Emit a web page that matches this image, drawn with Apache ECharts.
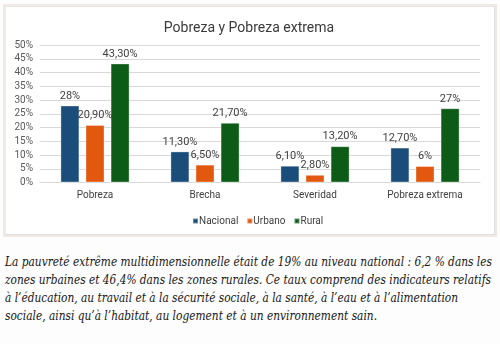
<!DOCTYPE html>
<html>
<head>
<meta charset="utf-8">
<script src="https://cdn.jsdelivr.net/npm/echarts@6/dist/echarts.min.js"></script>
<style>
  html, body { margin: 0; padding: 0; background: #fdfdfd; }
  body { width: 500px; height: 344px; position: relative; overflow: hidden; }
  #panel {
    position: absolute; left: 3px; top: 4px; width: 490px; height: 229px;
    border: 2px solid #f1e9e3; background: #fff;
  }
  #inner {
    position: absolute; left: 0; top: 0; right: 0; bottom: 0;
    border: 1px solid #dedede; border-left-color: #f3ecec; border-top-color: #ebe6e6;
  }
  #chart { position: absolute; left: 7px; top: 7px; width: 484px; height: 225px; }
  .line {
    position: absolute; left: 5px; white-space: nowrap;
    font-family: "DejaVu Serif", serif; font-style: italic; font-size: 12.5px;
    color: #161616; transform-origin: 0 50%;
  }
</style>
</head>
<body>
<div id="panel"><div id="inner"></div></div>
<div id="chart"></div>
<div id="para"></div>
<script>
// Chart data
const categories = ['Pobreza', 'Brecha', 'Severidad', 'Pobreza extrema'];
const nacional = [28, 11.3, 6.1, 12.7];
const urbano = [20.9, 6.5, 2.8, 6];
const rural = [43.3, 21.7, 13.2, 27];
const seriesNames = ['Nacional', 'Urbano', 'Rural'];
const seriesColors = ['#1a4d7a', '#e1580e', '#0c5c18'];
const yTicks = [0, 5, 10, 15, 20, 25, 30, 35, 40, 45, 50];

// Caption text, one entry per printed line, with its right edge
const captionLines = [
  'La pauvreté extrême multidimensionnelle était de 19% au niveau national : 6,2 % dans les',
  'zones urbaines et 46,4% dans les zones rurales. Ce taux comprend des indicateurs relatifs',
  'à l’éducation, au travail et à la sécurité sociale, à la santé, à l’eau et à l’alimentation',
  'sociale, ainsi qu’à l’habitat, au logement et à un environnement sain.'
];
const captionRight = [492, 491, 458, 377];
const captionTop = [254, 272, 290, 308];

const FONT = 'Roboto, Arial, sans-serif';
const fmt = v => {
  const s = Number.isInteger(v) ? String(v) : v.toFixed(2).replace('.', ',');
  return s + '%';
};

const chart = echarts.init(document.getElementById('chart'), null, { renderer: 'canvas' });
const labelStyle = {
  show: true, position: 'top', distance: 4,
  color: '#404040', fontSize: 11, fontFamily: FONT,
  formatter: p => fmt(p.value)
};
const data = [nacional, urbano, rural];
chart.setOption({
  animation: false,
  backgroundColor: '#fff',
  title: {
    text: 'Pobreza y Pobreza extrema', left: 'center', top: 9,
    textStyle: { fontSize: 14, fontWeight: 'normal', color: '#3a3a3a', fontFamily: FONT }
  },
  legend: {
    data: seriesNames, left: 180, top: 204, itemWidth: 5, itemHeight: 5, itemGap: 8,
    icon: 'rect',
    textStyle: { fontSize: 10, color: '#404040', padding: [0, 0, 0, -4], fontFamily: FONT }
  },
  grid: { left: 33, right: 11, top: 38, bottom: 49.5 },
  xAxis: {
    type: 'category', data: categories,
    axisLine: { lineStyle: { color: '#d9d9d9' } },
    axisTick: { show: false },
    axisLabel: { color: '#404040', fontSize: 10, margin: 8, fontFamily: FONT }
  },
  yAxis: {
    type: 'value', min: yTicks[0], max: yTicks[yTicks.length - 1], interval: 5,
    axisLine: { show: false }, axisTick: { show: false },
    splitLine: { lineStyle: { color: '#d9d9d9' } },
    axisLabel: { color: '#595959', fontSize: 10, margin: 7, formatter: '{value}%', fontFamily: FONT }
  },
  series: seriesNames.map((name, i) => ({
    name, type: 'bar', data: data[i],
    barWidth: 19, barGap: '32%',
    itemStyle: { color: seriesColors[i], borderColor: 'rgba(255,255,255,0.35)', borderWidth: 1 },
    label: labelStyle
  }))
});

// Caption lines, each fitted to its printed width
const para = document.getElementById('para');
captionLines.forEach((t, i) => {
  const d = document.createElement('div');
  d.className = 'line';
  d.textContent = t;
  d.style.top = captionTop[i] + 'px';
  para.appendChild(d);
  const w = d.getBoundingClientRect().width;
  const target = captionRight[i] - 5;
  d.style.transform = 'scaleX(' + (target / w).toFixed(4) + ')';
});
</script>
</body>
</html>
